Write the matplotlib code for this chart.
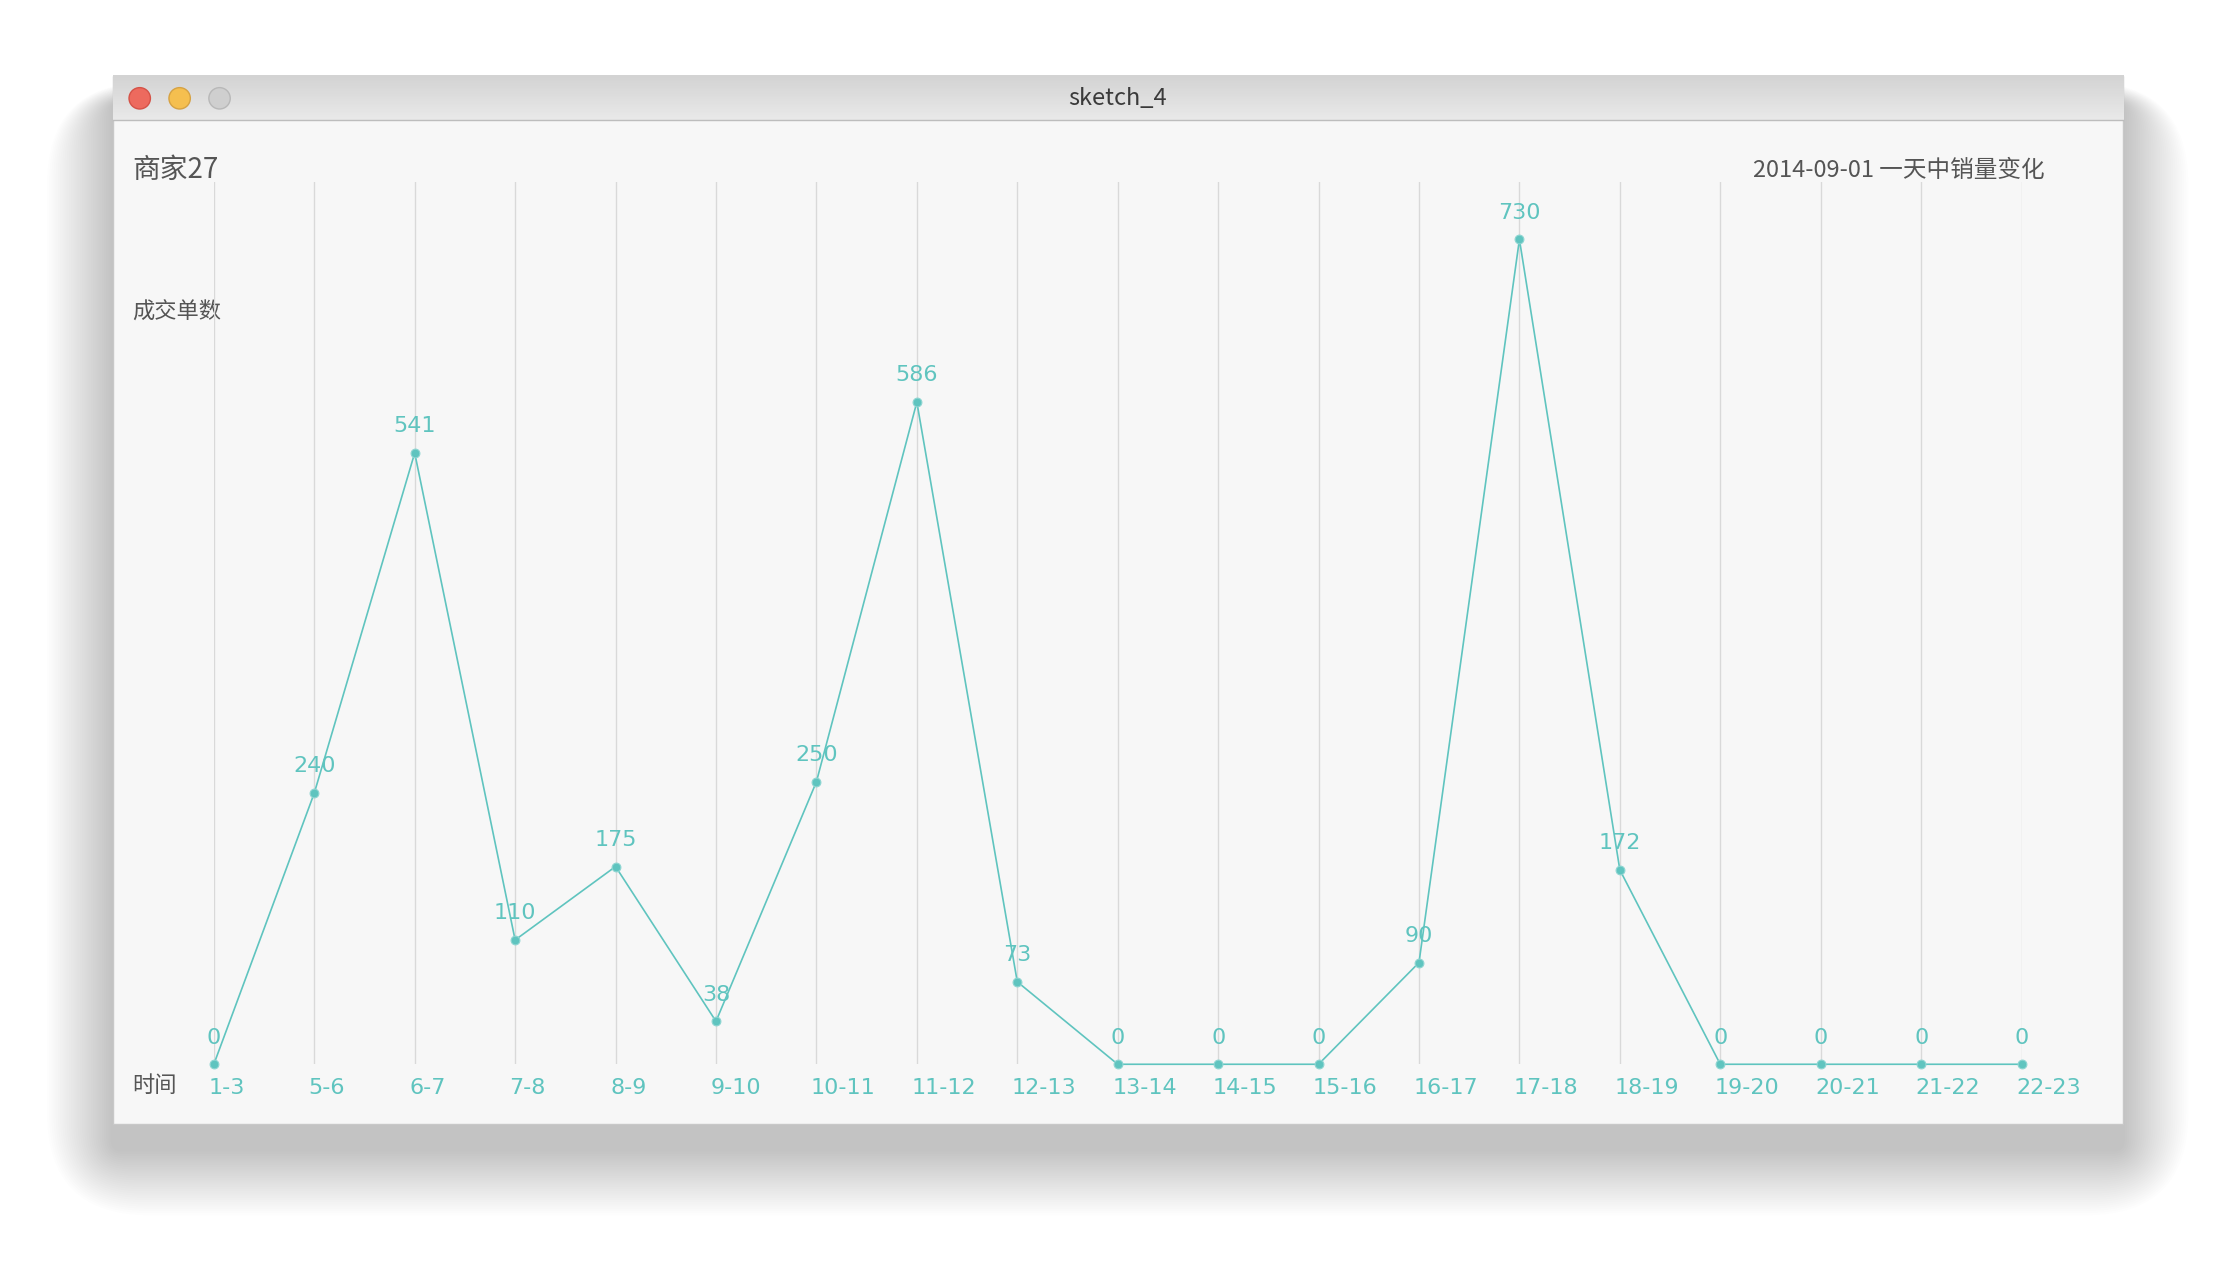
import matplotlib
matplotlib.use("Agg")
import matplotlib.pyplot as plt
from matplotlib.patches import Rectangle, Circle, FancyBboxPatch
import numpy as np

plt.rcParams['font.family'] = ['Noto Sans CJK SC', 'DejaVu Sans']

categories = ["1-3", "5-6", "6-7", "7-8", "8-9", "9-10", "10-11", "11-12", "12-13", "13-14",
              "14-15", "15-16", "16-17", "17-18", "18-19", "19-20", "20-21", "21-22", "22-23"]
values = [0, 240, 541, 110, 175, 38, 250, 586, 73, 0, 0, 0, 90, 730, 172, 0, 0, 0, 0]

W, H = 1560.0, 890.0  # reference layout units
fig = plt.figure(figsize=(22.24, 12.68), dpi=100)
fig.patch.set_facecolor("white")

bg = fig.add_axes([0, 0, 1, 1])
bg.set_xlim(0, W); bg.set_ylim(H, 0); bg.axis("off")
# soft shadow
for i in range(30):
    g = 2 + i * 2.2
    bg.add_patch(FancyBboxPatch((79 - g * 0.7, 53 + 18 - g * 0.2), 1410 + g * 1.4, 736 + g * 0.9,
                                boxstyle="round,pad=0,rounding_size=%f" % (6 + g),
                                fc="black", ec="none", alpha=0.007))
bg.add_patch(Rectangle((79, 53), 1410, 736, fc="#f7f7f7", ec="#c8c8c8", lw=1))
grad = np.linspace(0, 1, 50).reshape(-1, 1)
bg.imshow(grad, extent=(79, 1489, 84, 53), cmap=matplotlib.colors.LinearSegmentedColormap.from_list(
    "g", ["#d3d3d3", "#e9e9e9"]), aspect="auto", zorder=1)
bg.plot([79, 1489], [84, 84], color="#bdbdbd", lw=1, zorder=2)
for x, c, e in [(98, "#ed6a5e", "#d55247"), (126, "#f5bf4f", "#d6a243"), (154, "#cfcfcf", "#b8b8b8")]:
    bg.add_patch(Circle((x, 69), 7.5, fc=c, ec=e, lw=1, zorder=3))
bg.text(784, 69, "sketch_4", ha="center", va="center", fontsize=17, color="#3a3a3a", zorder=3)
bg.text(93, 119, "商家27", ha="left", va="center", fontsize=20, color="#555555")
bg.text(1434, 120, "2014-09-01 一天中销量变化", ha="right", va="center", fontsize=17, color="#555555")
bg.text(93, 219, "成交单数", ha="left", va="center", fontsize=16, color="#555555")
bg.text(93, 762, "时间", ha="left", va="center", fontsize=16, color="#555555")

teal = "#5fc4bf"
ax = fig.add_axes([150 / W, 1 - 747 / H, (1418 - 150) / W, (747 - 128) / H])
ax.set_xlim(0, len(categories) - 1)
ax.set_ylim(0, 780.5)
ax.axis("off")
x = np.arange(len(categories))
for xi in x:
    ax.axvline(xi, color="#d9d9d9", lw=1, zorder=0)
ax.plot(x, values, color=teal, lw=1.2, clip_on=False, zorder=2)
ax.scatter(x, values, s=40, color=teal, edgecolors="#8fd6d2", linewidths=0.8, clip_on=False, zorder=3)
for xi, v in zip(x, values):
    ax.annotate(str(v), (xi, v), xytext=(0, 12), textcoords="offset points",
                ha="center", va="bottom", fontsize=16, color=teal, family="DejaVu Sans",
                annotation_clip=False)
    ax.annotate(categories[xi], (xi, 0), xytext=(-4, -10), textcoords="offset points",
                ha="left", va="top", fontsize=16, color=teal, family="DejaVu Sans",
                annotation_clip=False)

fig.savefig("out.png", dpi=100)
